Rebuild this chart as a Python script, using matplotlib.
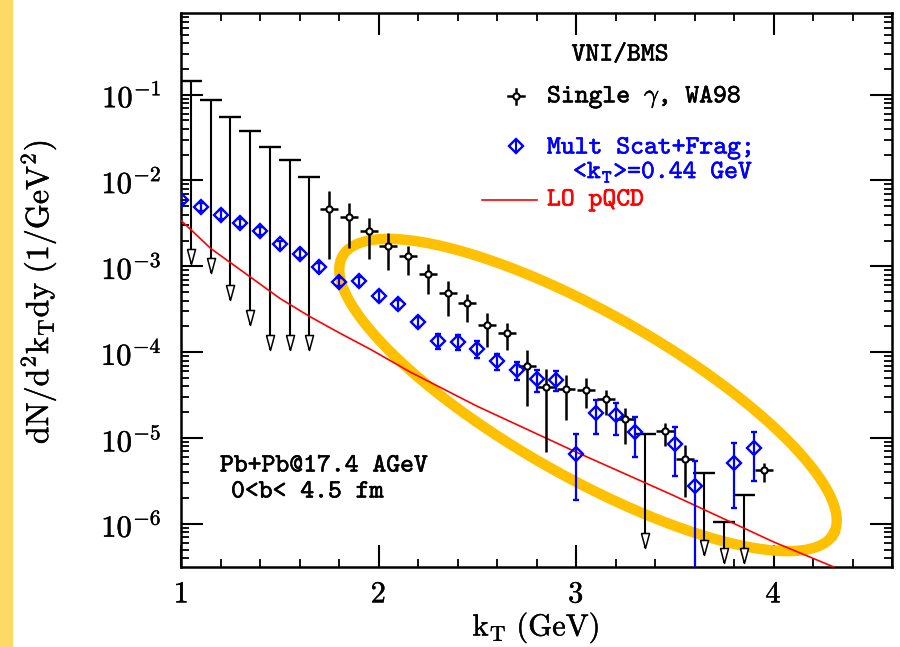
import numpy as np
import matplotlib
matplotlib.use('Agg')
import matplotlib.pyplot as plt
import matplotlib.ticker as ticker
import matplotlib.patheffects as pe
from matplotlib.patches import Rectangle

plt.rcParams['mathtext.fontset'] = 'cm'

# WA98 single photons, points with errors
wa98_kt = [1.75, 1.85, 1.95, 2.05, 2.15, 2.25, 2.35, 2.45, 2.55, 2.65, 2.75,
           2.85, 2.95, 3.05, 3.15, 3.25, 3.45, 3.55, 3.95]
wa98_val = [4.69e-3, 3.74e-3, 2.57e-3, 1.75e-3, 1.31e-3, 8.07e-4, 4.89e-4,
            3.74e-4, 2.10e-4, 1.69e-4, 6.97e-5, 3.89e-5, 3.78e-5, 3.68e-5,
            2.84e-5, 1.65e-5, 1.22e-5, 5.70e-6, 4.25e-6]
wa98_hi = [7.51e-3, 5.40e-3, 3.64e-3, 2.44e-3, 1.75e-3, 1.075e-3, 6.69e-4,
           4.82e-4, 2.86e-4, 2.19e-4, 1.055e-4, 6.46e-5, 5.40e-5, 4.98e-5,
           3.61e-5, 2.23e-5, 1.51e-5, 8.29e-6, 5.08e-6]
wa98_lo = [1.206e-3, 1.62e-3, 1.23e-3, 9.15e-4, 7.86e-4, 4.72e-4, 2.62e-4,
           2.25e-4, 1.15e-4, 1.055e-4, 2.36e-5, 6.93e-6, 1.62e-5, 2.23e-5,
           1.85e-5, 8.51e-6, 8.14e-6, 2.08e-6, 3.10e-6]

# WA98 upper limits (cap value and arrow tip)
ul_kt = [1.05, 1.15, 1.25, 1.35, 1.45, 1.55, 1.65, 3.35, 3.65, 3.75, 3.85]
ul_val = [0.145, 0.0868, 0.0555, 0.0374, 0.0244, 0.0175, 0.0109,
          1.13e-5, 3.89e-6, 1.06e-6, 2.2e-6]
ul_tip = [1.08e-3, 8.3e-4, 4.1e-4, 2.06e-4, 1.05e-4, 1.05e-4, 1.05e-4,
          5.2e-7, 4.4e-7, 3.5e-7, 3.5e-7]

# multiple scattering + fragmentation, <kT> = 0.44 GeV
ms_kt = [1.0, 1.1, 1.2, 1.3, 1.4, 1.5, 1.6, 1.7, 1.8, 1.9, 2.0, 2.1, 2.2, 2.3,
         2.4, 2.5, 2.6, 2.7, 2.8, 2.9, 3.0, 3.1, 3.2, 3.3, 3.5, 3.6, 3.8, 3.9]
ms_val = [6.0e-3, 4.9e-3, 4.0e-3, 3.2e-3, 2.57e-3, 1.8e-3, 1.41e-3, 9.8e-4,
          6.6e-4, 6.7e-4, 4.48e-4, 3.61e-4, 2.25e-4, 1.35e-4, 1.3e-4, 1.08e-4,
          7.86e-5, 6.18e-5, 4.85e-5, 4.72e-5, 6.5e-6, 1.94e-5, 1.85e-5,
          1.18e-5, 8.5e-6, 2.77e-6, 5.2e-6, 7.6e-6]
ms_hi = [6.7e-3, 5.5e-3, 4.5e-3, 3.6e-3, 2.9e-3, 2.0e-3, 1.6e-3, 1.1e-3,
         7.4e-4, 7.6e-4, 5.1e-4, 4.1e-4, 2.6e-4, 1.65e-4, 1.6e-4, 1.35e-4,
         9.66e-5, 7.71e-5, 6.18e-5, 6.07e-5, 1.11e-5, 2.77e-5, 2.57e-5,
         1.77e-5, 1.35e-5, 5.4e-6, 8.8e-6, 1.18e-5]
ms_lo = [5.4e-3, 4.4e-3, 3.6e-3, 2.85e-3, 2.3e-3, 1.6e-3, 1.25e-3, 8.7e-4,
         5.9e-4, 5.9e-4, 3.95e-4, 3.2e-4, 1.95e-4, 1.1e-4, 1.05e-4, 8.6e-5,
         6.18e-5, 4.72e-5, 3.45e-5, 3.55e-5, 1.9e-6, 1.11e-5, 1.08e-5,
         5.97e-6, 3.61e-6, 1.0e-8, 1.52e-6, 3.16e-6]

# LO pQCD curve
lo_kt = [1.0, 1.15, 1.35, 1.5, 1.65, 1.8, 1.96, 2.16, 2.5, 3.0, 3.5, 4.0,
         4.3, 4.4]
lo_val = [3.43e-3, 1.62e-3, 7.55e-4, 4.25e-4, 2.62e-4, 1.69e-4, 1.08e-4,
          5.9e-5, 2.35e-5, 6.9e-6, 2.12e-6, 6.2e-7, 3.2e-7, 2.5e-7]

y_decades = [1e-6, 1e-5, 1e-4, 1e-3, 1e-2, 1e-1]

W, H = 900, 647
AX_L, AX_R, AX_T, AX_B = 181, 892, 13, 567


def fx(px):
    return px / W


def fy(py):
    return 1 - py / H


fig = plt.figure(figsize=(9, 6.47), dpi=100)
ax = fig.add_axes([fx(AX_L), fy(AX_B), fx(AX_R - AX_L), (AX_B - AX_T) / H])

# yellow strip on the left edge
fig.patches.append(Rectangle((0, 0), 12 / W, 1, transform=fig.transFigure,
                             color='#FFD966', zorder=0))

# upper limits: line, cap and open arrow head
arrow_head = [(-0.27, 1), (0.27, 1), (0, 0), (-0.27, 1)]
ax.vlines(ul_kt, ul_tip, ul_val, color='k', lw=1.5, zorder=3)
ax.plot(ul_kt, ul_val, ls='none', marker='_', ms=16, mew=1.7, color='k', zorder=3)
ax.plot(ul_kt, ul_tip, ls='none', marker=arrow_head, ms=21.6, mfc='white',
        mec='k', mew=1.1, zorder=4)

# WA98 points
wa_val = np.array(wa98_val)
ax.errorbar(wa98_kt, wa_val, yerr=[wa_val - np.array(wa98_lo), np.array(wa98_hi) - wa_val],
            xerr=0.045, fmt='o', ms=4.5, mfc='white', mec='k', mew=1.5,
            ecolor='k', elinewidth=1.8, capsize=0, zorder=4)

# multiple scattering + fragmentation points
m_val = np.array(ms_val)
ax.errorbar(ms_kt, m_val, yerr=[m_val - np.array(ms_lo), np.array(ms_hi) - m_val],
            fmt='D', ms=6.8, mfc='none', mec='#0000FF', mew=1.7,
            ecolor='#0000FF', elinewidth=1.6, capsize=2, capthick=1.5, zorder=4)

# LO pQCD
ax.plot(lo_kt, lo_val, color='#FF0000', lw=1.2, zorder=3)

# highlight ellipse, drawn in figure pixels
t = np.linspace(0, 2 * np.pi, 400)
th = np.radians(29.5)
ex = 588 + 282 * np.cos(t) * np.cos(th) - 82 * np.sin(t) * np.sin(th)
ey = 395 + 282 * np.cos(t) * np.sin(th) + 82 * np.sin(t) * np.cos(th)
ax.plot(fx(ex), fy(ey), transform=fig.transFigure, color='#FFC000', lw=7.5,
        zorder=2, clip_on=False)

ax.set_yscale('log')
ax.set_xlim(1, 4.6)
ax.set_ylim(10 ** -6.5, 10 ** -0.05)

ax.xaxis.set_major_locator(ticker.FixedLocator([1, 2, 3, 4]))
ax.xaxis.set_minor_locator(ticker.MultipleLocator(0.2))
ax.xaxis.set_major_formatter(ticker.FuncFormatter(lambda v, p: r'$\mathrm{%d}$' % v))
ax.yaxis.set_major_locator(ticker.FixedLocator(y_decades))
ax.yaxis.set_minor_locator(ticker.LogLocator(base=10, subs=np.arange(2, 10), numticks=20))
ax.yaxis.set_major_formatter(ticker.FuncFormatter(
    lambda v, p: r'$\mathrm{10^{%d}}$' % round(np.log10(v))))
ax.yaxis.set_minor_formatter(ticker.NullFormatter())

ax.tick_params(which='both', direction='in', top=True, right=True)
ax.tick_params(which='major', length=16, width=1.5, labelsize=22)
ax.tick_params(which='minor', length=6, width=1.3)
ax.tick_params(axis='y', which='major', pad=14)
ax.tick_params(axis='x', which='major', pad=9)
for s in ax.spines.values():
    s.set_linewidth(1.8)

semibold = [pe.withStroke(linewidth=0.3, foreground='k')]
for lab in ax.get_xticklabels() + ax.get_yticklabels():
    lab.set_path_effects(semibold)

# axis titles
fig.text(fx(39), fy(292), r'$\mathrm{dN/d^2k_Tdy\ (1/GeV^2)}$', rotation=90,
         ha='center', va='center', fontsize=23, path_effects=semibold)
fig.text(fx(536), fy(628), r'$\mathrm{k_T\ (GeV)}$', ha='center', va='center',
         fontsize=22, path_effects=semibold)

# legend, drawn by hand
tt = 'cmtt10'
fs = 19


def label(px, py, s, color='k', ha='left'):
    fig.text(fx(px), fy(py), s, family=tt, fontsize=fs, va='center', ha=ha,
             color=color, path_effects=[pe.withStroke(linewidth=0.4, foreground=color)])


label(620, 55, 'VNI/BMS', ha='center')
label(547, 97, r'Single $\gamma$, WA98')
label(547, 148, 'Mult Scat+Frag;', color='#0000FF')
label(573, 172, r'<k$_\mathtt{T}$>=0.44 GeV', color='#0000FF')
label(547, 200, 'LO pQCD', color='#FF0000')

lx, ly = 516, 96
ax.plot(fx(np.array([lx - 7.5, lx + 7.5])), fy(np.array([ly, ly])),
        transform=fig.transFigure, color='k', lw=1.8)
ax.plot(fx(np.array([lx, lx])), fy(np.array([ly - 7.5, ly + 7.5])),
        transform=fig.transFigure, color='k', lw=1.8)
ax.plot(fx(lx), fy(ly), transform=fig.transFigure, marker='o', ms=4.5,
        mfc='white', mec='k', mew=1.5)
ax.plot(fx(516), fy(146), transform=fig.transFigure, marker='D', ms=7.5,
        mfc='none', mec='#0000FF', mew=1.7)
ax.plot(fx(np.array([516, 516])), fy(np.array([141, 151])),
        transform=fig.transFigure, color='#0000FF', lw=1.5)
ax.plot(fx(np.array([482, 537])), fy(np.array([200, 200])),
        transform=fig.transFigure, color='#FF0000', lw=1.2)

# collision system
label(220, 466, 'Pb+Pb@17.4 AGeV')
label(231, 492, '0<b< 4.5 fm')

fig.savefig('out.png', dpi=100)
